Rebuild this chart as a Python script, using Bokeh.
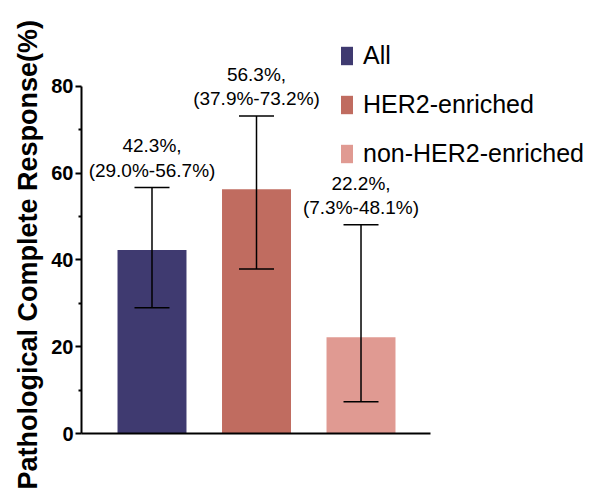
from bokeh.plotting import figure
from bokeh.models import (ColumnDataSource, Range1d, FixedTicker, Whisker, TeeHead,
                          Legend, LegendItem, Title)
from bokeh.core.properties import value
from bokeh.embed import file_html
from bokeh.resources import INLINE

categories = ["All", "HER2-enriched", "non-HER2-enriched"]
pcr = [42.3, 56.3, 22.2]
ci_lower = [29.0, 37.9, 7.3]
ci_upper = [56.7, 73.2, 48.1]
colors = ["#3F3A70", "#C06C60", "#E09A92"]
y_ticks = [0, 20, 40, 60, 80]
y_minor_ticks = [10, 30, 50, 70]

positions = [1, 2, 3]
labels = [f"{v:.1f}%,\n({lo:.1f}%-{hi:.1f}%)" for v, lo, hi in zip(pcr, ci_lower, ci_upper)]

source = ColumnDataSource(dict(x=positions, top=pcr, lower=ci_lower, upper=ci_upper,
                               color=colors, cat=categories, label=labels))

FONT = "Liberation Sans"

p = figure(width=590, height=495, output_backend="svg", toolbar_location=None,
           x_range=Range1d(0.3254, 5.196), y_range=Range1d(0, 98.674),
           min_border_left=81, min_border_right=0, min_border_top=5, min_border_bottom=62)
p.outline_line_color = None
p.xgrid.visible = False
p.ygrid.visible = False
p.background_fill_color = "white"

bars = p.vbar(x="x", top="top", width=0.66, fill_color="color", line_color=None, source=source)

whisk = Whisker(source=source, base="x", upper="upper", lower="lower", dimension="height",
                line_color="black", line_width=1.5, level="annotation",
                upper_head=TeeHead(size=35, line_color="black", line_width=1.5),
                lower_head=TeeHead(size=35, line_color="black", line_width=1.5))
p.add_layout(whisk)

p.text(x="x", y="upper", text="label", source=source, text_align="center",
       text_baseline="bottom", y_offset=-7, text_font=value(FONT),
       text_font_size="19px", text_line_height=1.15, text_color="black")

# y axis
ya = p.yaxis[0]
ya.bounds = (0, 80)
ya.ticker = FixedTicker(ticks=y_ticks, minor_ticks=y_minor_ticks)
ya.axis_line_width = 2
ya.axis_line_color = "black"
ya.major_tick_line_width = 2
ya.major_tick_in = 0
ya.major_tick_out = 6
ya.minor_tick_line_width = 2
ya.minor_tick_in = 0
ya.minor_tick_out = 3
ya.major_label_text_font = FONT
ya.major_label_text_font_style = "bold"
ya.major_label_text_font_size = "20px"
ya.major_label_text_color = "black"
ya.major_label_standoff = 2

ytitle = Title(text="Pathological Complete Response(%)", align="left", offset=-56,
               text_font=FONT, text_font_style="bold", text_font_size="27px",
               text_color="black", standoff=11)
p.add_layout(ytitle, "left")

# x axis
xa = p.xaxis[0]
xa.bounds = (0.3254, 3.665)
xa.ticker = FixedTicker(ticks=[])
xa.axis_line_width = 2
xa.axis_line_color = "black"
xa.major_tick_line_color = None
xa.minor_tick_line_color = None
xa.major_label_text_color = None

items = [LegendItem(label=c, renderers=[bars], index=i) for i, c in enumerate(categories)]
legend = Legend(items=items, location=(258, 265), padding=0, margin=0,
                glyph_width=15, glyph_height=23, label_height=23, label_standoff=9,
                spacing=20, border_line_color=None, background_fill_alpha=0,
                label_text_font=FONT, label_text_font_size="25px", label_text_color="black")
p.add_layout(legend, "center")

open("out.html", "w").write(file_html(p, INLINE))
